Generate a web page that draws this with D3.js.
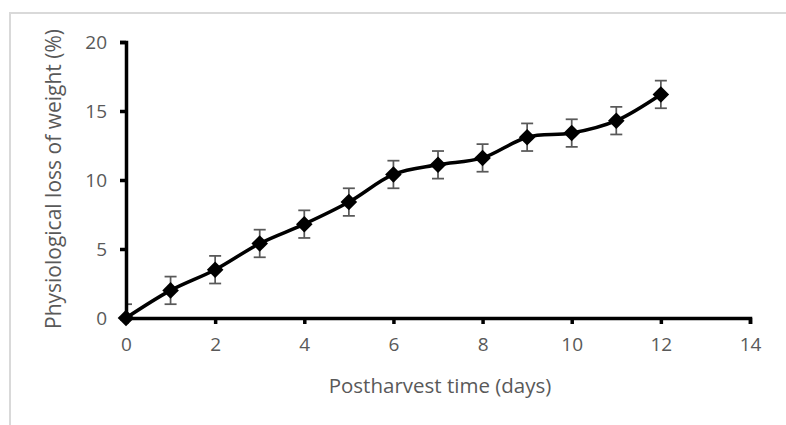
<!DOCTYPE html>
<html lang="en">
<head>
  <meta charset="UTF-8">
  <title>Physiological loss of weight</title>
  <script src="https://d3js.org/d3.v7.min.js"></script>
  <style>
    body {
      margin: 0;
      background-color: #ffffff;
      font-family: 'Open Sans', sans-serif;
    }
  </style>
</head>
<body>
  <svg width="786" height="425"></svg>

  <script>
    // data
    const days = [0, 1, 2, 3, 4, 5, 6, 7, 8, 9, 10, 11, 12];
    const weightLoss = [0, 2.0, 3.5, 5.4, 6.8, 8.4, 10.4, 11.1, 11.6, 13.1, 13.4, 14.3, 16.2];
    const errors = [1, 1, 1, 1, 1, 1, 1, 1, 1, 1, 1, 1, 1];
    const xTicks = [0, 2, 4, 6, 8, 10, 12, 14];
    const yTicks = [0, 5, 10, 15, 20];

    const width = 786, height = 425;
    const margin = { top: 42, right: 36, bottom: 107, left: 126 };

    const svg = d3.select("svg");

    // chart area border (only top and left show in the crop)
    svg.append("path")
      .attr("d", `M 10 ${height} L 10 13 L ${width} 13`)
      .attr("fill", "none")
      .attr("stroke", "#d9d9d9")
      .attr("stroke-width", 2);

    const g = svg.append("g").attr("transform", `translate(${margin.left},${margin.top})`);
    const innerWidth = width - margin.left - margin.right;
    const innerHeight = height - margin.top - margin.bottom;

    const x = d3.scaleLinear().domain([0, 14]).range([0, innerWidth]);
    const y = d3.scaleLinear().domain([0, 20]).range([innerHeight, 0]);

    const data = days.map((d, i) => ({ day: d, value: weightLoss[i], err: errors[i] }));

    svg.append("defs").append("clipPath")
      .attr("id", "plot-clip")
      .append("rect")
      .attr("x", 0).attr("y", 0)
      .attr("width", innerWidth).attr("height", innerHeight);

    // error bars, clipped to the plot area like excel does
    const bars = g.append("g").attr("clip-path", "url(#plot-clip)")
      .selectAll("g.err")
      .data(data)
      .join("g")
      .attr("class", "err")
      .attr("stroke", "#595959")
      .attr("stroke-width", 1.75);

    bars.append("line")
      .attr("x1", d => x(d.day)).attr("x2", d => x(d.day))
      .attr("y1", d => y(d.value - d.err)).attr("y2", d => y(d.value + d.err));
    bars.append("line")
      .attr("x1", d => x(d.day) - 6).attr("x2", d => x(d.day) + 6)
      .attr("y1", d => y(d.value + d.err)).attr("y2", d => y(d.value + d.err));
    bars.append("line")
      .attr("x1", d => x(d.day) - 6).attr("x2", d => x(d.day) + 6)
      .attr("y1", d => y(d.value - d.err)).attr("y2", d => y(d.value - d.err));

    // Axes
    const xAxis = g.append("g")
      .attr("transform", `translate(0,${innerHeight})`)
      .call(d3.axisBottom(x).tickValues(xTicks).tickSize(6).tickSizeOuter(6).tickPadding(14));

    const yAxis = g.append("g")
      .call(d3.axisLeft(y).tickValues(yTicks).tickSize(6).tickSizeOuter(6).tickPadding(13));

    [xAxis, yAxis].forEach(ax => {
      ax.select(".domain").attr("stroke", "#000").attr("stroke-width", 3.5);
      ax.selectAll(".tick line").attr("stroke", "#000").attr("stroke-width", 3.5);
      ax.selectAll(".tick text")
        .attr("fill", "#595959")
        .attr("font-size", "19px")
        .attr("font-family", "'Open Sans', sans-serif");
    });
    yAxis.selectAll(".tick text").attr("dy", "0.36em");

    // smoothed line
    const line = d3.line()
      .x(d => x(d.day))
      .y(d => y(d.value))
      .curve(d3.curveCatmullRom.alpha(0));

    g.append("path")
      .datum(data)
      .attr("fill", "none")
      .attr("stroke", "#000")
      .attr("stroke-width", 3.5)
      .attr("d", line);

    // diamond markers
    const diamond = d3.symbol().type(d3.symbolDiamond2).size(175);
    g.selectAll("path.marker")
      .data(data)
      .join("path")
      .attr("class", "marker")
      .attr("transform", d => `translate(${x(d.day)},${y(d.value)})`)
      .attr("d", diamond)
      .attr("fill", "#000");

    // Axis Labels
    svg.append("text")
      .attr("x", 440)
      .attr("y", 393)
      .attr("text-anchor", "middle")
      .attr("font-size", "20.5px")
      .attr("fill", "#595959")
      .text("Postharvest time (days)");

    svg.append("text")
      .attr("transform", "rotate(-90)")
      .attr("x", -179)
      .attr("y", 61)
      .attr("text-anchor", "middle")
      .attr("font-size", "21px")
      .attr("fill", "#595959")
      .text("Physiological loss of weight (%)");
  </script>
</body>
</html>
